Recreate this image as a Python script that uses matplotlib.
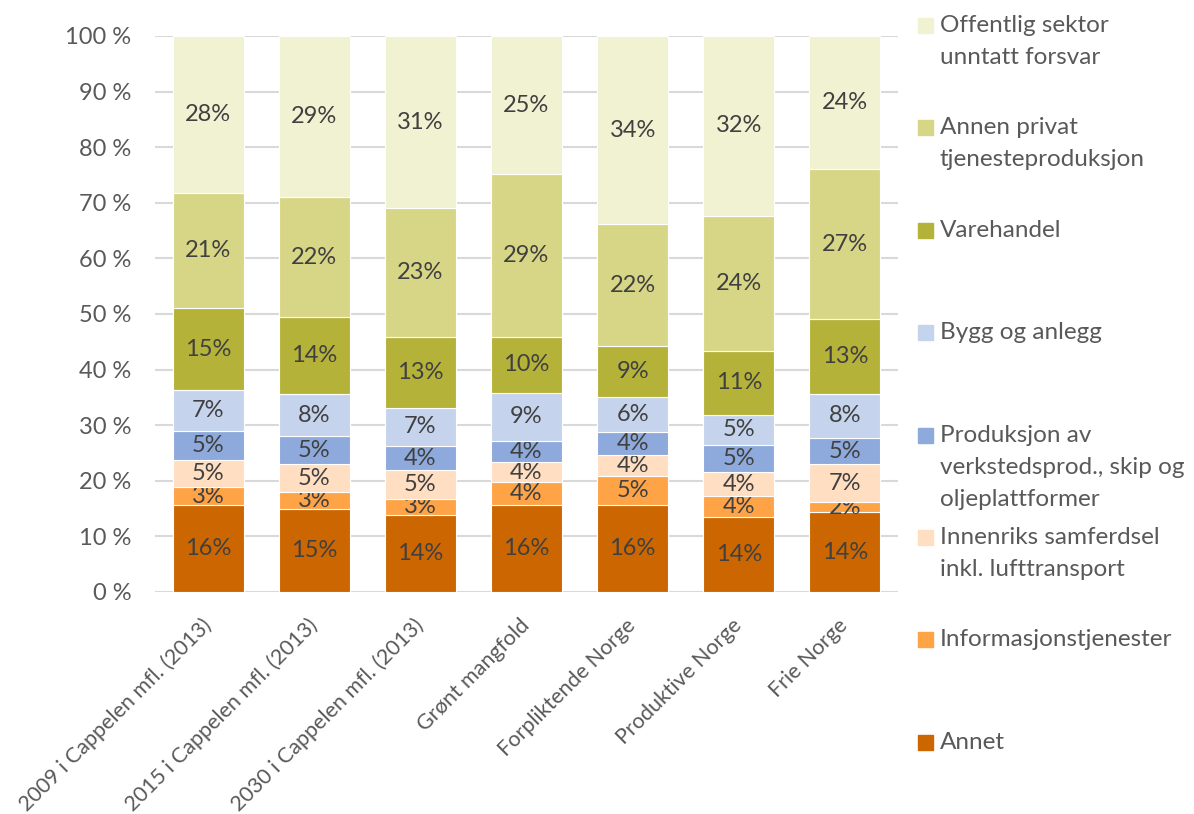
import matplotlib.pyplot as plt
from matplotlib.patches import Rectangle
from matplotlib.ticker import FuncFormatter
import numpy as np

categories = [
    "2009 i Cappelen mfl. (2013)",
    "2015 i Cappelen mfl. (2013)",
    "2030 i Cappelen mfl. (2013)",
    "Grønt mangfold",
    "Forpliktende Norge",
    "Produktive Norge",
    "Frie Norge",
]

# shares in percent, bottom to top of each stack
annet = [15.6, 14.9, 13.8, 15.6, 15.6, 13.5, 14.3]
informasjon = [3.2, 3.0, 3.0, 4.1, 5.3, 3.7, 1.9]
innenriks = [5.0, 5.1, 5.1, 3.6, 3.7, 4.4, 6.8]
produksjon = [5.2, 5.0, 4.4, 3.9, 4.2, 4.9, 4.7]
bygg = [7.4, 7.6, 6.8, 8.6, 6.3, 5.4, 8.0]
varehandel = [14.6, 13.8, 12.7, 10.1, 9.2, 11.4, 13.4]
annen_privat = [20.7, 21.6, 23.2, 29.2, 21.8, 24.4, 26.9]
offentlig = [28.3, 29.0, 31.0, 24.9, 33.9, 32.3, 24.0]

series_names = [
    "Annet",
    "Informasjonstjenester",
    "Innenriks samferdsel\ninkl. lufttransport",
    "Produksjon av\nverkstedsprod., skip og\noljeplattformer",
    "Bygg og anlegg",
    "Varehandel",
    "Annen privat\ntjenesteproduksjon",
    "Offentlig sektor\nunntatt forsvar",
]
series_values = [annet, informasjon, innenriks, produksjon, bygg,
                 varehandel, annen_privat, offentlig]
series_colors = ["#CC6600", "#FFA347", "#FFDEC2", "#8EA9DB",
                 "#C5D4EC", "#B5B23A", "#D7D686", "#F0F2D2"]

FONT = "Lato"
TEXT_GREY = "#595959"
LABEL_GREY = "#404040"
W, H = 1194, 814


def draw_bars(ax):
    x = np.arange(len(categories))
    bottom = np.zeros(len(categories))
    for vals, color in zip(series_values, series_colors):
        vals = np.array(vals)
        bars = ax.bar(x, vals, bottom=bottom, width=0.67, color=color,
                      edgecolor="white", linewidth=0.8, zorder=3)
        ax.bar_label(bars, labels=[f"{v:.0f}%" for v in vals],
                     label_type="center", fontsize=17, color=LABEL_GREY,
                     family=FONT)
        bottom += vals


def style_axes(ax):
    ax.set_xlim(-0.5, len(categories) - 0.5)
    ax.set_ylim(0, 100)
    ax.set_yticks(np.arange(0, 101, 10))
    ax.yaxis.set_major_formatter(FuncFormatter(lambda v, _: f"{v:.0f} %"))
    ax.set_xticks(np.arange(len(categories)))
    ax.set_xticklabels(categories, rotation=45, ha="right",
                       rotation_mode="anchor", va="center")
    ax.tick_params(length=0, labelcolor=TEXT_GREY)
    ax.tick_params(axis="x", pad=22, labelsize=15.5)
    ax.tick_params(axis="y", pad=17, labelsize=17)
    for lbl in ax.get_xticklabels() + ax.get_yticklabels():
        lbl.set_family(FONT)
    ax.grid(axis="y", color="#D9D9D9", linewidth=1.5, zorder=0)
    ax.set_axisbelow(True)
    for spine in ax.spines.values():
        spine.set_visible(False)


def draw_legend(fig):
    # vertical legend, entries evenly spaced, top entry first
    first_y, step, line_h = 25.5, 102.4, 32
    entries = list(zip(series_names, series_colors))[::-1]
    for i, (name, color) in enumerate(entries):
        y = first_y + i * step
        fig.add_artist(Rectangle((918 / W, 1 - (y + 7.5) / H), 15 / W, 15 / H,
                                 transform=fig.transFigure, color=color))
        for j, line in enumerate(name.split("\n")):
            fig.text(940 / W, 1 - (y + j * line_h) / H, line, fontsize=17.5,
                     color=TEXT_GREY, family=FONT, va="center", ha="left")


def main():
    fig = plt.figure(figsize=(W / 100, H / 100), dpi=100)
    ax = fig.add_axes([155 / W, 1 - 592 / H, (898 - 155) / W, (592 - 36) / H])
    draw_bars(ax)
    style_axes(ax)
    draw_legend(fig)
    fig.savefig("out.png", dpi=100, facecolor="white")


if __name__ == "__main__":
    main()
